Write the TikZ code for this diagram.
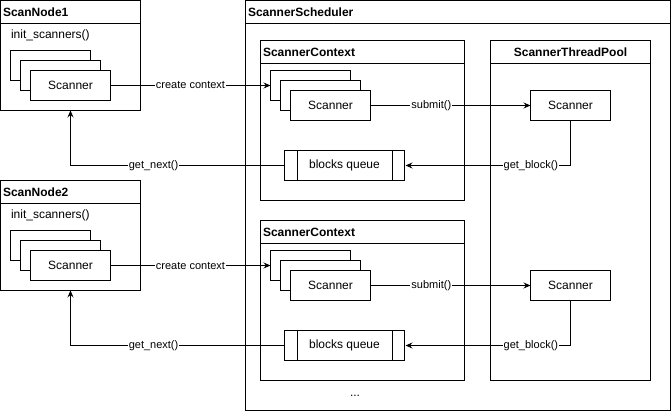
\documentclass[tikz,border=0pt]{standalone}
\usepackage{fontspec}
\setmainfont{Liberation Sans}
\usetikzlibrary{arrows.meta}
\begin{document}
\begin{tikzpicture}[x=1pt,y=-1pt,line width=1pt,
  box/.style={draw,fill=white,inner sep=0pt,outer sep=0pt,anchor=north west,font=\fontsize{12}{14}\selectfont},
  lbl/.style={font=\fontsize{12}{14}\selectfont,inner sep=0pt,anchor=west},
  ttl/.style={font=\fontsize{12}{14}\selectfont\bfseries,inner sep=0pt},
  elbl/.style={font=\fontsize{11}{13}\selectfont,fill=white,inner sep=1pt},
  arr/.style={-{Stealth[length=7pt,width=6pt,inset=2.5pt]}}]
\useasboundingbox (0,0) rectangle (671,411);

% ---------- ScanNode1 ----------
\node[box,minimum width=140,minimum height=110] (sn1) at (0.5,0.5) {};
\draw ([yshift=-23pt]sn1.north west) -- ([yshift=-23pt]sn1.north east);
\node[ttl,anchor=west] (sn1t) at (2.5,12) {ScanNode1};
\node[lbl] (sn1i) at (10.5,35) {init\_scanners()};
\node[box,minimum width=80,minimum height=30] (sn1a) at (10.5,50.5) {};
\node[box,minimum width=80,minimum height=30] (sn1b) at (20.5,60.5) {};
\node[box,minimum width=80,minimum height=30] (sn1c) at (30.5,70.5) {Scanner};

% ---------- ScanNode2 ----------
\node[box,minimum width=140,minimum height=110] (sn2) at (0.5,180.5) {};
\draw ([yshift=-23pt]sn2.north west) -- ([yshift=-23pt]sn2.north east);
\node[ttl,anchor=west] (sn2t) at (2.5,192) {ScanNode2};
\node[lbl] (sn2i) at (10.5,215) {init\_scanners()};
\node[box,minimum width=80,minimum height=30] (sn2a) at (10.5,230.5) {};
\node[box,minimum width=80,minimum height=30] (sn2b) at (20.5,240.5) {};
\node[box,minimum width=80,minimum height=30] (sn2c) at (30.5,250.5) {Scanner};

% ---------- ScannerScheduler ----------
\node[box,minimum width=425,minimum height=410] (sch) at (245.5,0.5) {};
\draw ([yshift=-23pt]sch.north west) -- ([yshift=-23pt]sch.north east);
\node[ttl,anchor=west] (scht) at (247.5,12) {ScannerScheduler};

% ---------- ScannerThreadPool ----------
\node[box,minimum width=160,minimum height=340] (pool) at (490.5,40.5) {};
\draw ([yshift=-23pt]pool.north west) -- ([yshift=-23pt]pool.north east);
\node[ttl] (poolt) at (570.5,52) {ScannerThreadPool};
\node[box,minimum width=80,minimum height=30] (p1) at (530.5,90.5) {Scanner};
\node[box,minimum width=80,minimum height=30] (p2) at (530.5,270.5) {Scanner};

% ---------- ScannerContext 1 ----------
\node[box,minimum width=204,minimum height=160] (ctx1) at (260.5,40.5) {};
\draw ([yshift=-23pt]ctx1.north west) -- ([yshift=-23pt]ctx1.north east);
\node[ttl,anchor=west] (ctx1t) at (262.5,52) {ScannerContext};
\node[box,minimum width=80,minimum height=30] (c1a) at (270.5,70.5) {};
\node[box,minimum width=80,minimum height=30] (c1b) at (280.5,80.5) {};
\node[box,minimum width=80,minimum height=30] (c1c) at (290.5,90.5) {Scanner};
\node[box,minimum width=120,minimum height=30] (q1) at (284.5,150.5) {blocks queue};
\draw ([xshift=13pt]q1.north west) -- ([xshift=13pt]q1.south west);
\draw ([xshift=-12pt]q1.north east) -- ([xshift=-12pt]q1.south east);

% ---------- ScannerContext 2 ----------
\node[box,minimum width=204,minimum height=160] (ctx2) at (260.5,220.5) {};
\draw ([yshift=-23pt]ctx2.north west) -- ([yshift=-23pt]ctx2.north east);
\node[ttl,anchor=west] (ctx2t) at (262.5,232) {ScannerContext};
\node[box,minimum width=80,minimum height=30] (c2a) at (270.5,250.5) {};
\node[box,minimum width=80,minimum height=30] (c2b) at (280.5,260.5) {};
\node[box,minimum width=80,minimum height=30] (c2c) at (290.5,270.5) {Scanner};
\node[box,minimum width=120,minimum height=30] (q2) at (284.5,330.5) {blocks queue};
\draw ([xshift=13pt]q2.north west) -- ([xshift=13pt]q2.south west);
\draw ([xshift=-12pt]q2.north east) -- ([xshift=-12pt]q2.south east);

\node[font=\fontsize{12}{14}\selectfont,inner sep=0pt] (dots) at (355,396) {...};

% ---------- connectors ----------
\draw[arr] (sn1c.east) -- node[elbl,pos=0.5]{create context} (c1a.west);
\draw[arr] (sn2c.east) -- node[elbl,pos=0.5]{create context} (c2a.west);
\draw[arr] (c1c.east) -- node[elbl,pos=0.38]{submit()} (p1.west);
\draw[arr] (c2c.east) -- node[elbl,pos=0.38]{submit()} (p2.west);
\draw[arr] (p1.south) |- node[elbl,pos=0.62]{get\_block()} ([xshift=1pt]q1.east);
\draw[arr] (p2.south) |- node[elbl,pos=0.62]{get\_block()} ([xshift=1pt]q2.east);
\draw[arr] (q1.west) -| node[elbl,pos=0.306]{get\_next()} (sn1.south);
\draw[arr] (q2.west) -| node[elbl,pos=0.306]{get\_next()} (sn2.south);
\end{tikzpicture}
\end{document}
